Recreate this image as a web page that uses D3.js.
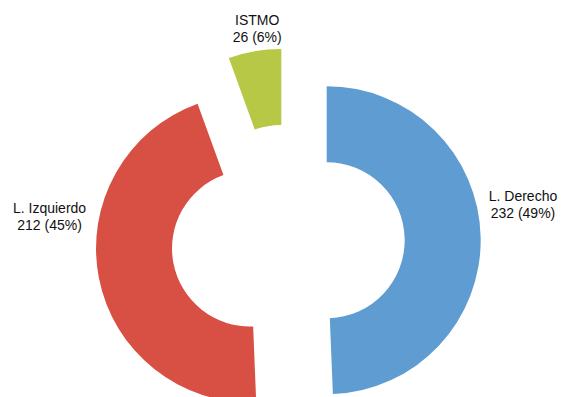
<!DOCTYPE html>
<html>
<head>
<meta charset="utf-8">
<script src="https://cdn.jsdelivr.net/npm/d3@7"></script>
<style>
  body { margin: 0; background: #fff; }
  svg { display: block; }
  text { font-family: "Liberation Sans", Arial, Helvetica, sans-serif; font-size: 14px; fill: #111; }
</style>
</head>
<body>
<div id="chart"></div>
<script>
"use strict";
// chart data
var categories = ["L. Derecho", "L. Izquierdo", "ISTMO"];
var values = [232, 212, 26];
var colors = ["#5e9cd2", "#d84f43", "#b6c845"];

var width = 562, height = 397;
var cx = 288, cy = 241;          // centre of the unexploded pie
var outerR = 154, innerR = 78;
var explode = 38.7;              // how far each slice is pulled out
// label placement: distance along the slice bisector and a vertical nudge
var labelR = [235, 243, 178];
var labelDy = [-35, -75, -41];
var lineH = 17;

var total = d3.sum(values);
var pctFormat = d3.format(".0%");

var svg = d3.select("#chart")
    .append("svg")
    .attr("width", width)
    .attr("height", height);

var pie = d3.pie().sort(null).value(function (d) { return d.value; });
var arc = d3.arc().innerRadius(innerR).outerRadius(outerR);

var data = categories.map(function (c, i) {
    return { name: c, value: values[i], color: colors[i], i: i };
});
var arcs = pie(data);

function bisector(d) { return (d.startAngle + d.endAngle) / 2; }

var slices = svg.append("g").attr("class", "slices")
    .selectAll("g")
    .data(arcs)
    .enter().append("g")
    .attr("transform", function (d) {
        var a = bisector(d);
        var x = cx + Math.sin(a) * explode;
        var y = cy - Math.cos(a) * explode;
        return "translate(" + x + "," + y + ")";
    });

slices.append("path")
    .attr("d", arc)
    .attr("fill", function (d) { return d.data.color; });

// labels outside each slice, two centred lines
var labels = svg.append("g").attr("class", "labels")
    .selectAll("text")
    .data(arcs)
    .enter().append("text")
    .attr("text-anchor", "middle")
    .attr("transform", function (d) {
        var a = bisector(d);
        var r = labelR[d.data.i];
        var x = cx + Math.sin(a) * r;
        var y = cy - Math.cos(a) * r + labelDy[d.data.i];
        return "translate(" + x + "," + y + ")";
    });

labels.append("tspan")
    .attr("x", 0)
    .attr("y", 0)
    .text(function (d) { return d.data.name; });
labels.append("tspan")
    .attr("x", 0)
    .attr("y", lineH)
    .text(function (d) { return d.data.value + " (" + pctFormat(d.data.value / total) + ")"; });
</script>
</body>
</html>
